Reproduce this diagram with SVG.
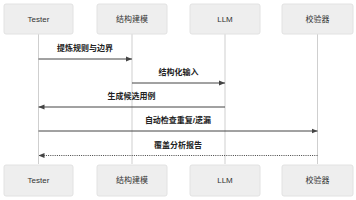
<svg xmlns="http://www.w3.org/2000/svg" width="356" height="200" viewBox="0 0 356 200">
<defs>
<marker id="ah" viewBox="0 0 6 6" refX="6" refY="3" markerWidth="6" markerHeight="6" orient="auto" markerUnits="userSpaceOnUse">
<path d="M0,0.5 L6,3 L0,5.5 Z" fill="#444"/>
</marker>
<style>
.box{fill:#eeeeee;stroke:#e2e2e2;stroke-width:1}
.pt{font-family:"Liberation Sans","Noto Sans CJK SC",sans-serif;font-size:8px;fill:#333;text-anchor:middle}
.life{stroke:#cfcfcf;stroke-width:1}
.msg{stroke:#444;stroke-width:1;fill:none;marker-end:url(#ah)}
.dash{stroke-dasharray:1,1.2}
.ml{font-family:"Liberation Sans","Noto Sans CJK SC",sans-serif;font-size:8px;font-weight:bold;fill:#222;text-anchor:middle}
</style>
</defs>
<rect width="356" height="200" fill="#ffffff"/>
<g id="lifelines">
<line class="life" x1="38.5" y1="34" x2="38.5" y2="164"/>
<line class="life" x1="132" y1="34" x2="132" y2="164"/>
<line class="life" x1="225" y1="34" x2="225" y2="164"/>
<line class="life" x1="317.5" y1="34" x2="317.5" y2="164"/>
</g>
<g id="tester">
<rect class="box" x="4" y="4" width="69" height="30" rx="2"/>
<text class="pt" x="38.5" y="22">Tester</text>
<rect class="box" x="4" y="165" width="69" height="31" rx="2"/>
<text class="pt" x="38.5" y="183">Tester</text>
</g>
<g id="modeling">
<rect class="box" x="97" y="4" width="70" height="30" rx="2"/>
<text class="pt" x="132" y="22">结构建模</text>
<rect class="box" x="97" y="165" width="70" height="31" rx="2"/>
<text class="pt" x="132" y="183">结构建模</text>
</g>
<g id="llm">
<rect class="box" x="190" y="4" width="70" height="30" rx="2"/>
<text class="pt" x="225" y="22">LLM</text>
<rect class="box" x="190" y="165" width="70" height="31" rx="2"/>
<text class="pt" x="225" y="183">LLM</text>
</g>
<g id="validator">
<rect class="box" x="282" y="4" width="71" height="30" rx="2"/>
<text class="pt" x="317.5" y="22">校验器</text>
<rect class="box" x="282" y="165" width="71" height="31" rx="2"/>
<text class="pt" x="317.5" y="183">校验器</text>
</g>
<g id="connectors">
<line class="msg" x1="38.5" y1="59" x2="132" y2="59"/>
<text class="ml" x="85" y="51">提炼规则与边界</text>
<line class="msg" x1="132" y1="83" x2="225" y2="83"/>
<text class="ml" x="178.5" y="75">结构化输入</text>
<line class="msg" x1="225" y1="107" x2="38.5" y2="107"/>
<text class="ml" x="131.5" y="99">生成候选用例</text>
<line class="msg" x1="38.5" y1="131" x2="317.5" y2="131"/>
<text class="ml" x="178" y="123">自动检查重复/遗漏</text>
<line class="msg dash" x1="317.5" y1="155.5" x2="38.5" y2="155.5"/>
<text class="ml" x="178" y="148">覆盖分析报告</text>
</g>
</svg>
